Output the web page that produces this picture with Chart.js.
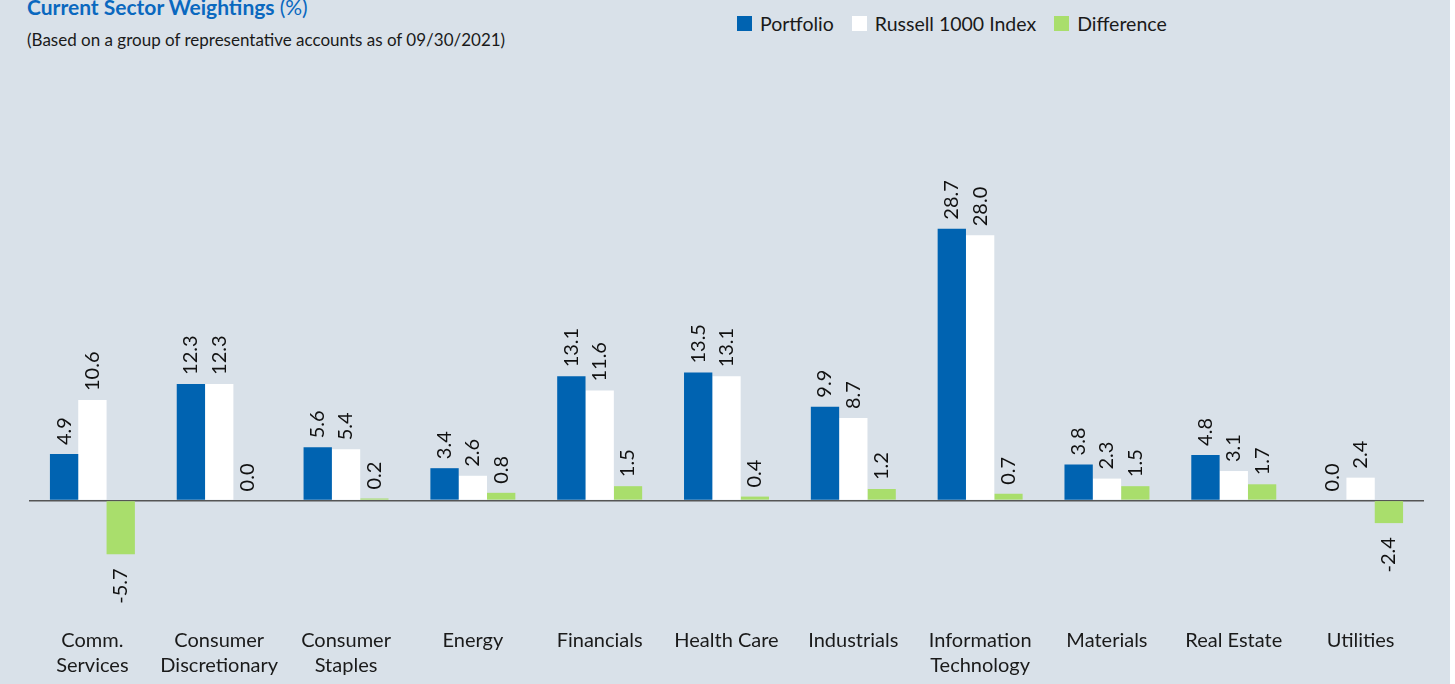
<!DOCTYPE html>
<html>
<head>
<meta charset="utf-8">
<script src="https://cdn.jsdelivr.net/npm/chart.js@4/dist/chart.umd.min.js"></script>
<style>
  html, body { margin: 0; padding: 0; background: #ffffff; }
  #panel { position: relative; width: 1450px; height: 684px; background: #d9e1e9; overflow: hidden; font-family: Lato, "Noto Sans", sans-serif; }
  #title { position: absolute; left: 27px; top: -6px; font-size: 21px; font-weight: bold; color: #0a68bf; white-space: nowrap; }
  #title span { font-weight: normal; }
  #subtitle { position: absolute; left: 27px; top: 29px; font-size: 17px; color: #1a1a1a; white-space: nowrap; }
  #legend { position: absolute; left: 737px; top: 12px; display: flex; font-size: 19.5px; color: #1a1a1a; white-space: nowrap; }
  #legend .item { display: flex; align-items: center; margin-right: 18px; }
  #legend .box { width: 15px; height: 15px; margin-right: 8px; }
  canvas { position: absolute; left: 0; top: 0; }
</style>
</head>
<body>
<div id="panel">
  <div id="title">Current Sector Weightings <span>(%)</span></div>
  <div id="subtitle">(Based on a group of representative accounts as of 09/30/2021)</div>
  <div id="legend"></div>
  <canvas id="sectorChart" width="1450" height="698"></canvas>
</div>
<script>
// categories + series
const sectors = [
  ["Comm.", "Services"], ["Consumer", "Discretionary"], ["Consumer", "Staples"], "Energy",
  "Financials", "Health Care", "Industrials", ["Information", "Technology"],
  "Materials", "Real Estate", "Utilities"
];
const portfolio = [4.9, 12.3, 5.6, 3.4, 13.1, 13.5, 9.9, 28.7, 3.8, 4.8, 0.0];
const russell1000 = [10.6, 12.3, 5.4, 2.6, 11.6, 13.1, 8.7, 28.0, 2.3, 3.1, 2.4];
const difference = [-5.7, 0.0, 0.2, 0.8, 1.5, 0.4, 1.2, 0.7, 1.5, 1.7, -2.4];

const COLOR_PORTFOLIO = "#0063b1";
const COLOR_INDEX = "#ffffff";
const COLOR_DIFF = "#a9de6c";
const FONT = "Lato, 'Noto Sans', sans-serif";

// rotated value labels at the end of each bar
const barLabels = {
  id: 'barLabels',
  afterDatasetsDraw(chart) {
    const ctx = chart.ctx;
    ctx.save();
    ctx.font = "20px " + FONT;
    ctx.fillStyle = "#111";
    ctx.textBaseline = "middle";
    chart.data.datasets.forEach((ds, i) => {
      const meta = chart.getDatasetMeta(i);
      meta.data.forEach((bar, j) => {
        const v = ds.data[j];
        const txt = v.toFixed(1);
        ctx.save();
        ctx.translate(bar.x, bar.y);
        ctx.rotate(-Math.PI / 2);
        if (v < 0) {
          ctx.textAlign = "right";
          ctx.fillText(txt, -14, 0);
        } else {
          ctx.textAlign = "left";
          ctx.fillText(txt, 9, 0);
        }
        ctx.restore();
      });
    });
    ctx.restore();
  }
};

const chart = new Chart(document.getElementById('sectorChart').getContext('2d'), {
  type: 'bar',
  data: {
    labels: sectors,
    datasets: [
      { label: 'Portfolio', data: portfolio, backgroundColor: COLOR_PORTFOLIO },
      { label: 'Russell 1000 Index', data: russell1000, backgroundColor: COLOR_INDEX },
      { label: 'Difference', data: difference, backgroundColor: COLOR_DIFF }
    ]
  },
  options: {
    responsive: false,
    animation: false,
    datasets: { bar: { categoryPercentage: 0.67, barPercentage: 1.0 } },
    layout: { padding: { left: 29, right: 26, top: 169, bottom: 6 } },
    scales: {
      x: {
        grid: { display: false, drawTicks: false },
        border: { display: false },
        ticks: { color: "#1a1a1a", padding: 14, maxRotation: 0, autoSkip: false,
                 font: { family: FONT, size: 20, lineHeight: 1.25 } }
      },
      y: {
        min: -12, max: 35,
        ticks: { display: false, stepSize: 1 },
        border: { display: false },
        grid: {
          drawTicks: false,
          color: c => c.tick.value === 0 ? "#555555" : "rgba(0,0,0,0)",
          lineWidth: c => c.tick.value === 0 ? 1.5 : 0
        }
      }
    },
    plugins: {
      legend: { display: false },
      tooltip: { enabled: false }
    }
  },
  plugins: [barLabels]
});

// html legend built from the datasets
const legend = document.getElementById('legend');
chart.data.datasets.forEach(ds => {
  const item = document.createElement('div');
  item.className = 'item';
  item.innerHTML = `<div class="box" style="background:${ds.backgroundColor}"></div>${ds.label}`;
  legend.appendChild(item);
});
</script>
</body>
</html>
